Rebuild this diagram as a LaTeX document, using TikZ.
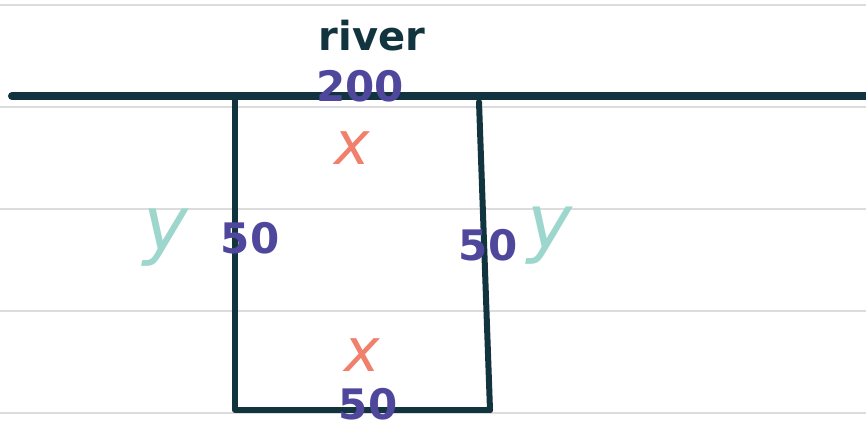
\documentclass[tikz,border=0pt]{standalone}
\usepackage{fontspec}
\setmainfont{DejaVu Sans}
\usetikzlibrary{positioning}

\definecolor{ink}{HTML}{12343F}
\definecolor{plum}{HTML}{4F479B}
\definecolor{salmon}{HTML}{F07F6B}
\definecolor{mint}{HTML}{9DD6CC}
\definecolor{rule}{HTML}{DCDCDC}

\begin{document}
\begin{tikzpicture}[
  x=1pt,y=-1pt,
  paper/.style={draw=rule,line width=1.5pt},
  bank/.style={draw=ink,line width=8pt,line cap=round},
  fence/.style={draw=ink,line width=6pt,line cap=round,line join=round},
  len/.style={text=plum,font=\fontsize{42}{42}\selectfont\bfseries,inner sep=0pt},
  xvar/.style={text=salmon,font=\fontsize{60}{60}\selectfont\itshape,inner sep=0pt,text depth=0pt},
  yvar/.style={text=mint,font=\fontsize{76}{76}\selectfont\itshape,inner sep=0pt}
]
\fill[white] (0,0) rectangle (866,431);
\useasboundingbox (0,0) rectangle (866,431);
% ruled paper
\foreach \y in {5,107,209,311,413}
  \draw[paper] (0,\y) -- (866,\y);
% river bank
\coordinate (bankW) at (12,96);
\coordinate (bankE) at (866,96);
\draw[bank] (bankW) -- (bankE);
\node[text=ink,font=\fontsize{40}{40}\selectfont\bfseries,inner sep=0pt] (river) at (372,36) {river};
% fenced field
\coordinate (tl) at (235,96);
\coordinate (tr) at (479,102);
\coordinate (bl) at (235,410);
\coordinate (br) at (490,410);
\draw[fence] (tl) -- (bl) -- (br);
\draw[fence] (tr) -- (br);
% labels
\node[len] (top) at (360,86) {200};
\node[xvar] (xtop) at (352,148) {x};
\node[len] (left) at (250,238) {50};
\node[yvar] (yleft) at (166,238) {y};
\node[len] (right) at (488,245) {50};
\node[yvar] (yright) at (550,236) {y};
\node[xvar] (xbot) at (362,355) {x};
\node[len] (bot) at (368,404) {50};
\end{tikzpicture}
\end{document}
